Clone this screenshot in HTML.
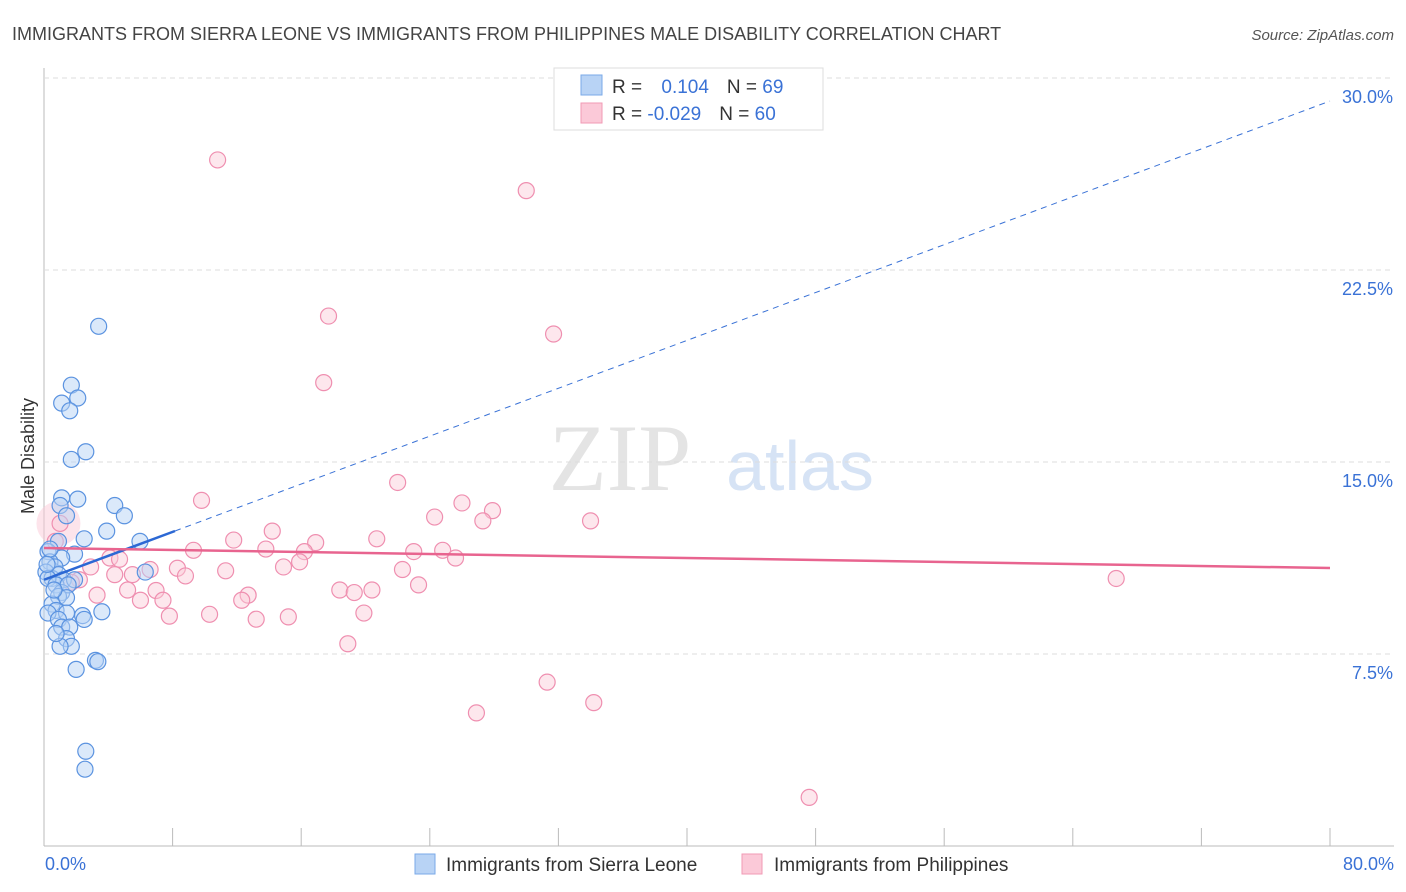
<!DOCTYPE html>
<html><head><meta charset="utf-8"><style>
body{margin:0;background:#fff;font-family:"Liberation Sans",sans-serif;}
#wrap{position:relative;width:1406px;height:892px;overflow:hidden;}
</style></head><body>
<div id="wrap">
<svg id="svg" width="1406" height="892" xmlns="http://www.w3.org/2000/svg">
<text x="12" y="40" font-size="18" fill="#444">IMMIGRANTS FROM SIERRA LEONE VS IMMIGRANTS FROM PHILIPPINES MALE DISABILITY CORRELATION CHART</text>
<text x="1394" y="40" font-size="15" fill="#555" font-style="italic" text-anchor="end">Source: ZipAtlas.com</text>
<text x="34" y="456" font-size="18" fill="#333" text-anchor="middle" transform="rotate(-90 34 456)">Male Disability</text>
<text x="620" y="490" font-size="95" fill="#e4e4e4" font-family="Liberation Serif,serif" text-anchor="middle">ZIP</text>
<text x="800" y="490" font-size="70" fill="#d6e3f5" text-anchor="middle">atlas</text>
<g id="grid"></g><g id="pts"></g><g id="lines"></g>
<g>
<rect x="554" y="68" width="269" height="62" fill="#fff" stroke="#ddd"/>
<rect x="581" y="75" width="21" height="20" fill="#b8d3f5" stroke="#7aaae8"/>
<rect x="581" y="103" width="21" height="20" fill="#fbc9d8" stroke="#f09ab5"/>
<text x="612" y="93" font-size="19" fill="#333">R = <tspan fill="#3a72d6" dx="14">0.104</tspan><tspan fill="#333" dx="18">N = </tspan><tspan fill="#3a72d6">69</tspan></text>
<text x="612" y="120" font-size="19" fill="#333">R = <tspan fill="#3a72d6">-0.029</tspan><tspan fill="#333" dx="18">N = </tspan><tspan fill="#3a72d6">60</tspan></text>
</g>
<g>
<rect x="415" y="854" width="20" height="20" fill="#b8d3f5" stroke="#7aaae8"/>
<text x="446" y="871" font-size="19" fill="#333">Immigrants from Sierra Leone</text>
<rect x="742" y="854" width="20" height="20" fill="#fbc9d8" stroke="#f09ab5"/>
<text x="774" y="871" font-size="19" fill="#333">Immigrants from Philippines</text>
</g>
<text x="45" y="870" font-size="18" fill="#3a72d6">0.0%</text>
<text x="1394" y="870" font-size="18" fill="#3a72d6" text-anchor="end">80.0%</text>
</svg></div>
<script>
const yTicks=[7.5,15,22.5,30];
const yTickLabels=["7.5%","15.0%","22.5%","30.0%"];
const xTicks=[0,8,16,24,32,40,48,56,64,72,80];
const blueX=[3.4,1.7,1.1,2.1,1.6,2.6,1.7,1.1,2.1,1.0,4.4,1.4,5.0,3.9,2.5,5.97,0.9,1.9,1.1,0.25,0.37,0.68,0.12,0.5,0.9,1.2,0.25,0.75,1.1,1.9,1.5,6.3,0.9,1.4,0.5,0.75,0.25,1.4,2.4,2.5,3.6,0.9,1.1,1.6,1.4,1.7,1.0,0.75,3.2,3.35,2.0,2.6,2.55,0.37,0.19,0.62];
const blueY=[20.3,18.0,17.3,17.5,17.0,15.4,15.1,13.6,13.55,13.3,13.3,12.9,12.9,12.3,12.0,11.9,11.9,11.4,11.25,11.5,11.1,10.9,10.7,10.45,10.6,10.4,10.45,10.2,9.9,10.4,10.2,10.7,9.75,9.7,9.45,9.2,9.1,9.1,9.0,8.85,9.15,8.85,8.55,8.55,8.1,7.8,7.8,8.3,7.25,7.2,6.9,3.7,3.0,11.6,11.0,10.0];
const pinkX=[10.8,30.0,17.7,31.7,17.4,22.0,9.8,26.0,27.9,24.3,34.0,27.3,14.2,11.8,20.7,16.9,13.8,9.3,23.0,24.8,16.2,25.6,15.9,4.1,22.3,8.3,8.8,11.3,14.9,6.6,4.4,2.2,5.5,1.7,23.3,18.4,19.3,20.4,6.97,5.2,3.3,12.7,12.3,7.4,19.9,10.3,7.8,13.2,15.2,18.9,31.3,34.2,26.9,47.6,66.7,1.0,4.7,6.0,0.7,2.9];
const pinkY=[26.8,25.6,20.7,20.0,18.1,14.2,13.5,13.4,13.1,12.85,12.7,12.7,12.3,11.95,12.0,11.85,11.6,11.55,11.5,11.55,11.5,11.25,11.1,11.25,10.8,10.85,10.55,10.75,10.9,10.8,10.6,10.4,10.6,10.3,10.2,10.0,9.9,10.0,9.98,10.0,9.8,9.8,9.6,9.6,9.1,9.05,8.98,8.86,8.95,7.9,6.4,5.6,5.2,1.9,10.45,12.6,11.2,9.6,11.9,10.9];
const blueTrend=[10.4,29.1]; const blueSolidEnd=8.15;
const pinkTrend=[11.64,10.86];
const X0=44,X1=1330,Y0=846,PX=(X1-X0)/80,PY=25.6;
const sx=v=>X0+v*PX, sy=v=>Y0-v*PY;
const NS="http://www.w3.org/2000/svg";
function mk(tag,attrs,parent){const e=document.createElementNS(NS,tag);for(const k in attrs)e.setAttribute(k,attrs[k]);parent.appendChild(e);return e;}
const grid=document.getElementById('grid'),pts=document.getElementById('pts'),lines=document.getElementById('lines');
let e;
e=mk('line',{x1:X0,y1:68,x2:X0,y2:Y0,stroke:'#bbb'},grid);


e=mk('line',{x1:X0,y1:Y0,x2:1394,y2:Y0,stroke:'#bbb'},grid);


yTicks.forEach((t,i)=>{
 e=mk('line',{x1:X0,y1:sy(t),x2:1394,y2:sy(t),stroke:'#ddd','stroke-dasharray':'5,4'},grid);
 
 
 e=mk('text',{x:1393,y:sy(t)+25,'font-size':18,fill:'#3a72d6','text-anchor':'end'},grid);
 e.textContent=yTickLabels[i];
 
 
});
xTicks.forEach(t=>{
 e=mk('line',{x1:sx(t),y1:Y0,x2:sx(t),y2:Y0-18,stroke:'#bbb'},grid);
 
 
});
e=mk('circle',{cx:sx(0.9),cy:sy(12.6),r:22,fill:'#fbc9d8','fill-opacity':0.5},pts);


pinkX.forEach((x,i)=>{
 e=mk('circle',{cx:sx(x),cy:sy(pinkY[i]),r:8,fill:'#fbc9d8','fill-opacity':0.45,stroke:'#ef8fb0','stroke-width':1.2},pts);
 
 
});
blueX.forEach((x,i)=>{
 e=mk('circle',{cx:sx(x),cy:sy(blueY[i]),r:8,fill:'#b8d3f5','fill-opacity':0.5,stroke:'#5b93e0','stroke-width':1.2},pts);
 
 
});
const by=x=>blueTrend[0]+(blueTrend[1]-blueTrend[0])*x/80;
e=mk('line',{x1:sx(blueSolidEnd),y1:sy(by(blueSolidEnd)),x2:sx(80),y2:sy(by(80)),stroke:'#3a72d6','stroke-width':1,'stroke-dasharray':'6,5'},lines);


e=mk('line',{x1:sx(0),y1:sy(by(0)),x2:sx(blueSolidEnd),y2:sy(by(blueSolidEnd)),stroke:'#2c68d4','stroke-width':2.5},lines);


e=mk('line',{x1:sx(0),y1:sy(pinkTrend[0]),x2:sx(80),y2:sy(pinkTrend[1]),stroke:'#e8648f','stroke-width':2.5},lines);


</script>
</body></html>
